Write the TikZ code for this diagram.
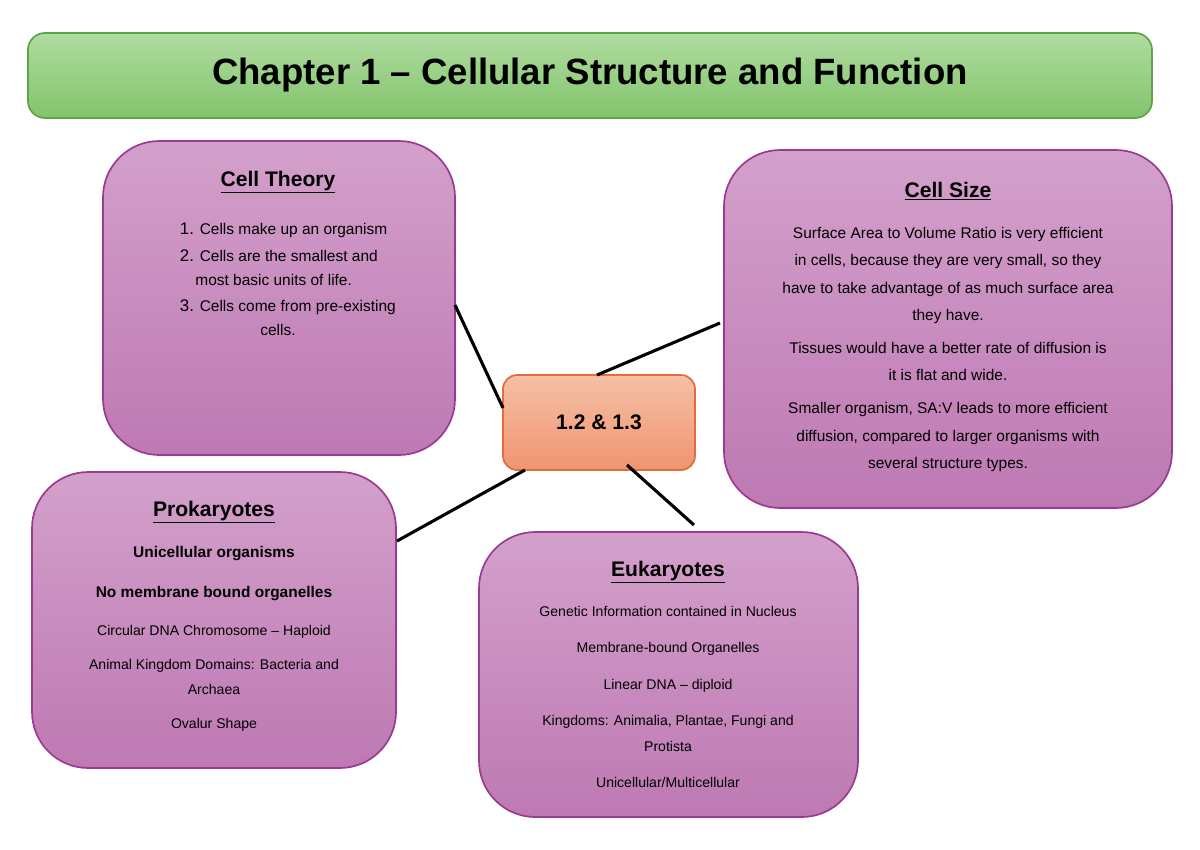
\documentclass[tikz,border=0pt]{standalone}
\usepackage{fontspec}
\setmainfont{Liberation Sans}
\usetikzlibrary{positioning}
\definecolor{purpletop}{HTML}{D3A0CB}
\definecolor{purplebot}{HTML}{BE79B3}
\definecolor{purpleline}{HTML}{9A3A90}
\definecolor{greentop}{HTML}{B0DCA0}
\definecolor{greenbot}{HTML}{82C46C}
\definecolor{greenline}{HTML}{5FA447}
\definecolor{orangetop}{HTML}{F6C0A6}
\definecolor{orangebot}{HTML}{F09470}
\definecolor{orangeline}{HTML}{E46C3A}
\tikzset{
  topic/.style = {draw = purpleline, line width = 1.2pt, rounded corners = 40pt,
                  top color = purpletop, bottom color = purplebot, inner sep = 0pt},
  link/.style = {line width = 2.2pt, black},
  head/.style = {font = \bfseries\fontsize{15}{18}\selectfont},
}
\begin{document}
\begin{tikzpicture}[x = 0.025cm, y = -0.025cm]
    \useasboundingbox (0,0) rectangle (1200,849);
    % title bar
    \node[draw = greenline, line width = 1.2pt, rounded corners = 12pt,
          top color = greentop, bottom color = greenbot,
          minimum width = 1124*0.025cm, minimum height = 85*0.025cm] (title) at (590,75.5)
          {\bfseries\fontsize{26}{30}\selectfont Chapter 1 -- Cellular Structure and Function};
    % topic boxes
    \node[topic, minimum width = 352*0.025cm, minimum height = 314*0.025cm] (theory) at (279,298) {};
    \node[topic, minimum width = 448*0.025cm, minimum height = 358*0.025cm] (size) at (948,329) {};
    \node[topic, minimum width = 364*0.025cm, minimum height = 296*0.025cm] (prok) at (214,620) {};
    \node[topic, minimum width = 379*0.025cm, minimum height = 285*0.025cm] (euk) at (668.5,674.5) {};
    \node[draw = orangeline, line width = 1.2pt, rounded corners = 10pt,
          top color = orangetop, bottom color = orangebot,
          minimum width = 192*0.025cm, minimum height = 95*0.025cm] (hub) at (599,422.5)
          {\bfseries\fontsize{15}{18}\selectfont 1.2 \& 1.3};
    % texts
    \node[head] (theoryhead) at (278,182) {\underline{Cell Theory}};
    \node[align = left, font = \fontsize{11}{17}\selectfont, anchor = north west] (theorytext) at (175,218)
        {{\large 1.} Cells make up an organism\\[2pt]
         {\large 2.} Cells are the smallest and\\
         \quad most basic units of life.\\[2pt]
         {\large 3.} Cells come from pre-existing\\
         \hspace*{5.2em}cells.};
    \node[head] (sizehead) at (948,191) {\underline{Cell Size}};
    \node[align = center, font = \fontsize{11}{19.5}\selectfont, anchor = north] (sizetext) at (948,222)
        {Surface Area to Volume Ratio is very efficient\\
         in cells, because they are very small, so they\\
         have to take advantage of as much surface area\\
         they have.\\[4pt]
         Tissues would have a better rate of diffusion is\\
         it is flat and wide.\\[4pt]
         Smaller organism, SA:V leads to more efficient\\
         diffusion, compared to larger organisms with\\
         several structure types.};
    \node[head] (prokhead) at (214,512) {\underline{Prokaryotes}};
    \node[align = center, font = \fontsize{10}{18}\selectfont, anchor = north] (proktext) at (214,541)
        {\textbf{\fontsize{11}{13}\selectfont Unicellular organisms}\\[11pt]
         \textbf{\fontsize{11}{13}\selectfont No membrane bound organelles}\\[9pt]
         Circular DNA Chromosome -- Haploid\\[6pt]
         Animal Kingdom Domains: Bacteria and\\
         Archaea\\[6pt]
         Ovalur Shape};
    \node[head] (eukhead) at (668,572) {\underline{Eukaryotes}};
    \node[align = center, font = \fontsize{10}{18}\selectfont, anchor = north] (euktext) at (668,601)
        {Genetic Information contained in Nucleus\\[8pt]
         Membrane-bound Organelles\\[8pt]
         Linear DNA -- diploid\\[8pt]
         Kingdoms: Animalia, Plantae, Fungi and\\
         Protista\\[8pt]
         Unicellular/Multicellular};
    % connectors
    \coordinate (c1) at (455,305);
    \coordinate (c2) at (503,408);
    \coordinate (c3) at (597,375);
    \coordinate (c4) at (720,323);
    \coordinate (c5) at (525,470);
    \coordinate (c6) at (397,541);
    \coordinate (c7) at (627,465);
    \coordinate (c8) at (694,525);
    \draw[link] (c1) -- (c2);
    \draw[link] (c3) -- (c4);
    \draw[link] (c5) -- (c6);
    \draw[link] (c7) -- (c8);
\end{tikzpicture}
\end{document}
